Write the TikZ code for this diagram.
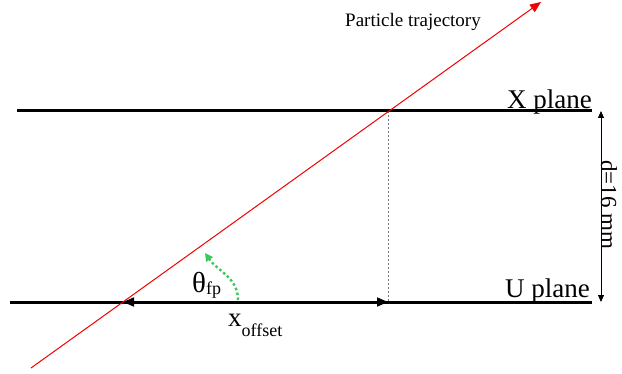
\documentclass[tikz,border=0pt]{standalone}
\usepackage{fontspec}
\setmainfont{Liberation Serif}
\usetikzlibrary{arrows.meta,calc}
\definecolor{ink}{RGB}{0,0,0}
\definecolor{track}{RGB}{240,0,0}
\definecolor{anglegreen}{RGB}{60,200,90}
\definecolor{guide}{RGB}{120,120,120}
\newcommand{\lowsub}[3]{\raisebox{#1}{\fontsize{#2}{#2}\selectfont #3}}
\tikzset{
  plane/.style={line width=3pt,draw=ink},
  trackline/.style={-{Triangle[length=11pt,width=9pt]},line width=1pt,draw=track},
  span/.style={{Triangle[length=11pt,width=9pt]}-{Triangle[length=11pt,width=9pt]},line width=1.6pt,draw=ink},
  gap/.style={{Triangle[length=7pt,width=6pt]}-{Triangle[length=7pt,width=6pt]},line width=0.8pt,draw=ink},
  guideline/.style={dash pattern=on 2pt off 2pt,line width=0.8pt,draw=guide},
  anglearc/.style={-{Triangle[length=8pt,width=8pt]},dash pattern=on 2.5pt off 2.5pt,line width=2.4pt,draw=anglegreen},
  planelabel/.style={font=\fontsize{27}{27}\selectfont,text=ink,inner sep=0pt},
  symlabel/.style={font=\fontsize{29}{29}\selectfont,text=ink,inner sep=0pt},
  smalllabel/.style={font=\fontsize{19}{19}\selectfont,text=ink,inner sep=0pt}
}
\begin{document}
\begin{tikzpicture}[x=1pt,y=1pt]
  \useasboundingbox (0,0) rectangle (622,373);
  \coordinate (xleft) at (17,262);
  \coordinate (xright) at (592,262);
  \coordinate (uleft) at (10,71);
  \coordinate (uright) at (592,71);
  \coordinate (ucross) at (123,71);
  \coordinate (xcross) at (388,262);
  \coordinate (xfoot) at (388,71);
  \coordinate (trackstart) at (31,5);
  \coordinate (trackend) at (541,371);
  \coordinate (gaptop) at (601,262);
  \coordinate (gapbottom) at (601,71);
  \coordinate (arcstart) at (238,73);
  \coordinate (arcend) at (205,120);

  \draw[plane] (xleft) -- (xright);
  \draw[plane] (uleft) -- (uright);
  \draw[guideline] (xcross) -- (xfoot);
  \draw[span] (ucross) -- (xfoot);
  \draw[trackline] (trackstart) -- (trackend);
  \draw[gap] (gaptop) -- (gapbottom);
  \draw[anglearc] (arcstart) to[out=90,in=-55] (arcend);

  \node[smalllabel,anchor=base] (tracklabel) at (413,346) {Particle trajectory};
  \node[planelabel,anchor=base east] (xlabel) at (592,264) {X plane};
  \node[planelabel,anchor=base east] (ulabel) at (590,76) {U plane};
  \node[smalllabel,font=\fontsize{23}{23}\selectfont,rotate=-90] (gaplabel) at (609,168) {d=16 mm};
  \node[symlabel,anchor=base west] (thetalabel) at (192,81) {θ\lowsub{-2pt}{18}{fp}};
  \node[symlabel,font=\fontsize{27}{27}\selectfont,anchor=base west] (offsetlabel) at (228,47) {x\lowsub{-10pt}{18}{offset}};
\end{tikzpicture}
\end{document}
